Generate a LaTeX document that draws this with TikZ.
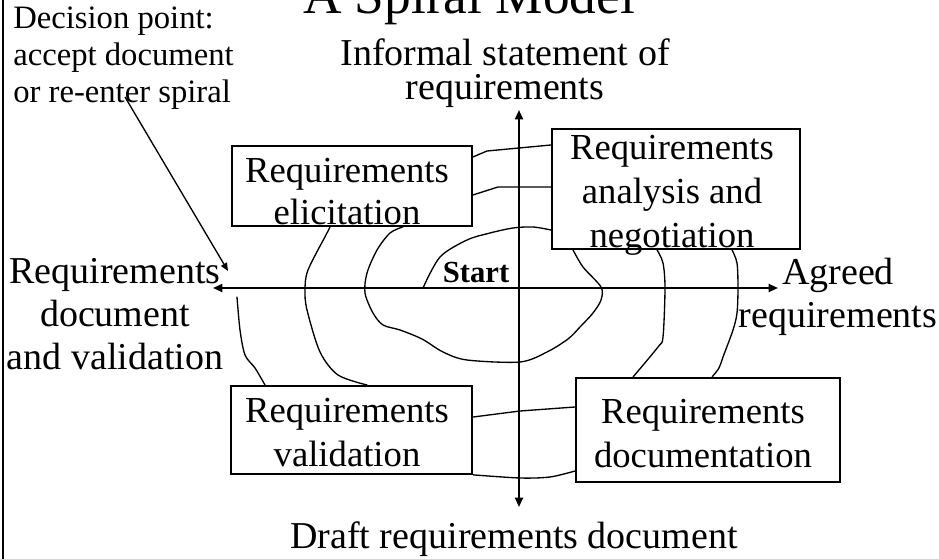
\documentclass[tikz,border=0pt]{standalone}
\usepackage{fontspec}
\setmainfont{Liberation Serif}
\usetikzlibrary{arrows.meta}
\begin{document}
\begin{tikzpicture}[x=0.75pt,y=-0.75pt,
  boxtext/.style={font=\fontsize{27.5}{33}\selectfont, align=center, anchor=base, inner sep=0pt},
  lbl/.style={font=\fontsize{28.5}{32.5}\selectfont, align=center, anchor=base, inner sep=0pt},
  box/.style={draw, line width=1.4pt, inner sep=0pt, anchor=north west},
  axis/.style={line width=1.4pt, -{Triangle[length=7pt,width=6pt]}},
  spiral/.style={line width=1pt, line join=round, line cap=round},
]
\useasboundingbox (0,0) rectangle (939,559);
\draw[line width=1.5pt] (3,0) -- (3,559);

% title (cut at top)
\node[font=\fontsize{40}{48}\selectfont, anchor=base, inner sep=0pt] (title) at (469,14) {A Spiral Model};

% boxes
\node[box, minimum width=180pt, minimum height=60pt] (elic) at (231,145) {};
\node[box, minimum width=186pt, minimum height=90pt] (anal) at (551,128) {};
\node[box, minimum width=181pt, minimum height=66pt] (vali) at (230,385) {};
\node[box, minimum width=198pt, minimum height=78pt] (docu) at (575,377) {};

% texts (anchor = baseline of last line)
\node[boxtext, font=\fontsize{27.5}{31.5}\selectfont] (elict) at (347,225) {Requirements\\elicitation};
\node[boxtext] (analt) at (672,248) {Requirements\\analysis and\\negotiation};
\node[boxtext] (valit) at (347,467) {Requirements\\validation};
\node[boxtext] (docut) at (703,468) {Requirements\\documentation};

% axes
\coordinate (O) at (519,288);
\coordinate (L) at (213,288);
\coordinate (R) at (778,288);
\coordinate (T) at (519,110);
\coordinate (B) at (519,507);
\draw[axis] (O) -- (L);
\draw[axis] (O) -- (R);
\draw[axis] (O) -- (T);
\draw[axis] (O) -- (B);

% labels
\node[lbl, font=\fontsize{28.5}{26}\selectfont] (inf) at (505,100) {Informal statement of\\requirements};
\node[lbl] (rdv) at (115,370) {Requirements\\document\\and validation};
\node[lbl] (agr) at (838,328) {Agreed\\requirements};
\node[lbl] (drf) at (514,548) {Draft requirements document};
\node[font=\fontsize{24.5}{28}\selectfont, align=left, anchor=base west, inner sep=0pt] (dec) at (13,103) {Decision point:\\accept document\\or re-enter spiral};
\node[font=\bfseries\fontsize{23}{26}\selectfont, anchor=base, inner sep=0pt] (start) at (476,283) {Start};

% decision arrow
\coordinate (d0) at (125,97);
\coordinate (d1) at (228,271);
\draw[line width=1pt, -{Triangle[length=6pt,width=5pt]}] (d0) -- (d1);

% spiral
\draw[spiral] plot[smooth, tension=0.5] coordinates {(423,0 |- O) (440,257) (467,240) (490,233) (513,228) (533,227) (551,230)};
\draw[spiral] plot[smooth, tension=0.5] coordinates {(573,0 |- anal.south) (583,267) (601,287) (601,300) (593,313) (580,327) (568,339) (547,352) (520,362) (467,360) (443,352) (422,339) (400,330) (383,325) (373,313) (365,293) (367,273) (377,250) (390,233) (403,0 |- elic.south)};
\draw[spiral] (elic.east |- 0,195) -- (498,187) -- (anal.west |- 0,187);
\draw[spiral] (elic.east |- 0,157) -- (487,151) -- (anal.west |- 0,145);
\draw[spiral] plot[smooth, tension=0.5] coordinates {(657,0 |- anal.south) (663,263) (665,288) (663,337) (658,347) (633,0 |- docu.north)};
\draw[spiral] plot[smooth, tension=0.5] coordinates {(732,0 |- anal.south) (737,263) (738,288) (737,313) (733,330) (723,357) (719,368) (712,0 |- docu.north)};
\draw[spiral] (vali.east |- 0,417) -- (520,411) -- (docu.west |- 0,407);
\draw[spiral] plot[smooth, tension=0.5] coordinates {(vali.south east) (520,478) (550,477) (docu.west |- 0,471)};
\draw[spiral] plot[smooth, tension=0.5] coordinates {(367,0 |- vali.north) (338,375) (320,352) (307,310) (305,290) (308,270) (327,233) (330,0 |- elic.south)};
\coordinate (re) at (237,297);
\draw[spiral] plot[smooth, tension=0.5] coordinates {(265,0 |- vali.north) (255,368) (245,355) (240,330) (re)};
\end{tikzpicture}
\end{document}
